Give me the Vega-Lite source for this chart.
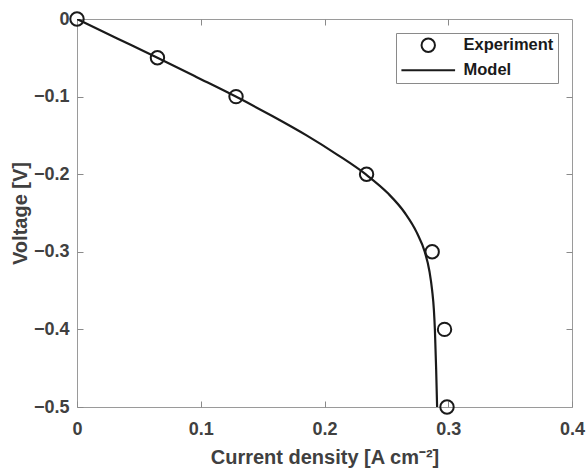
{
  "$schema": "https://vega.github.io/schema/vega-lite/v6.json",
  "width": 495,
  "height": 388,
  "autosize": "none",
  "padding": {"left": 77, "top": 19, "right": 14, "bottom": 63},
  "background": "white",
  "config": {
    "view": {"stroke": "#9a9a9a", "strokeWidth": 1},
    "font": "Liberation Sans",
    "axis": {
      "domain": false,
      "grid": false,
      "ticks": true,
      "tickSize": 6,
      "offset": -6,
      "tickColor": "#8a8a8a",
      "tickWidth": 1,
      "labelFont": "Liberation Sans",
      "labelFontSize": 18,
      "labelFontWeight": "bold",
      "labelColor": "#404040",
      "titleFont": "Liberation Sans",
      "titleFontSize": 20,
      "titleFontWeight": "bold",
      "titleColor": "#404040"
    },
    "legend": {
      "orient": "top-right",
      "offset": 14,
      "padding": 4,
      "strokeColor": "#8a8a8a",
      "fillColor": "white",
      "labelFont": "Liberation Sans",
      "labelFontSize": 16.5,
      "labelFontWeight": "bold",
      "labelColor": "#1a1a1a",
      "labelOffset": 27,
      "symbolOffset": 20,
      "rowPadding": 6,
      "symbolSize": 180,
      "symbolStrokeWidth": 2,
      "symbolStrokeColor": "#1a1a1a",
      "symbolFillColor": "transparent"
    }
  },
  "datasets": {
    "exp": [
      {"j": 0, "v": 0, "series": "Experiment"},
      {"j": 0.065, "v": -0.05, "series": "Experiment"},
      {"j": 0.1285, "v": -0.1, "series": "Experiment"},
      {"j": 0.234, "v": -0.2, "series": "Experiment"},
      {"j": 0.287, "v": -0.3, "series": "Experiment"},
      {"j": 0.297, "v": -0.4, "series": "Experiment"},
      {"j": 0.299, "v": -0.5, "series": "Experiment"}
    ],
    "model": [
      {"j": 0, "v": 0},
      {"j": 0.0325, "v": -0.025},
      {"j": 0.065, "v": -0.05},
      {"j": 0.0968, "v": -0.075},
      {"j": 0.1283, "v": -0.1},
      {"j": 0.1578, "v": -0.125},
      {"j": 0.1855, "v": -0.15},
      {"j": 0.2105, "v": -0.175},
      {"j": 0.2332, "v": -0.2},
      {"j": 0.2515, "v": -0.225},
      {"j": 0.265, "v": -0.25},
      {"j": 0.2745, "v": -0.275},
      {"j": 0.281, "v": -0.3},
      {"j": 0.2848, "v": -0.325},
      {"j": 0.287, "v": -0.35},
      {"j": 0.2884, "v": -0.375},
      {"j": 0.2892, "v": -0.4},
      {"j": 0.2902, "v": -0.45},
      {"j": 0.291, "v": -0.5}
    ]
  },
  "resolve": {"axis": {"x": "independent", "y": "independent"}},
  "layer": [
    {
      "data": {"name": "model"},
      "mark": {"type": "line", "color": "#1a1a1a", "strokeWidth": 2.2, "interpolate": "monotone", "clip": true},
      "encoding": {
        "x": {"field": "j", "type": "quantitative", "scale": {"domain": [0, 0.4], "nice": false},
          "axis": {"orient": "bottom", "values": [0, 0.1, 0.2, 0.3, 0.4], "format": "~g", "labelPadding": 13, "labelFlush": false, "title": "Current density [A cm⁻²]", "titlePadding": 9}},
        "y": {"field": "v", "type": "quantitative", "scale": {"domain": [-0.5, 0], "nice": false, "zero": false},
          "axis": {"orient": "left", "values": [0, -0.1, -0.2, -0.3, -0.4, -0.5], "format": "~g", "labelPadding": 8, "labelFlush": false, "title": "Voltage [V]", "titlePadding": 3}},
        "order": {"field": "v", "type": "quantitative", "sort": "descending"}
      }
    },
    {
      "data": {"name": "exp"},
      "mark": {"type": "point", "filled": false, "color": "#1a1a1a", "strokeWidth": 2, "size": 180, "opacity": 1, "clip": false},
      "encoding": {
        "x": {"field": "j", "type": "quantitative", "scale": {"domain": [0, 0.4], "nice": false},
          "axis": {"orient": "top", "values": [0.1, 0.2, 0.3], "labels": false, "title": null}},
        "y": {"field": "v", "type": "quantitative", "scale": {"domain": [-0.5, 0], "nice": false, "zero": false},
          "axis": {"orient": "right", "values": [-0.1, -0.2, -0.3, -0.4], "labels": false, "title": null}},
        "shape": {"field": "series", "type": "nominal",
          "scale": {"domain": ["Experiment", "Model"], "range": ["circle", "M-4,0L4,0"]},
          "legend": {"title": null}}
      }
    }
  ]
}
